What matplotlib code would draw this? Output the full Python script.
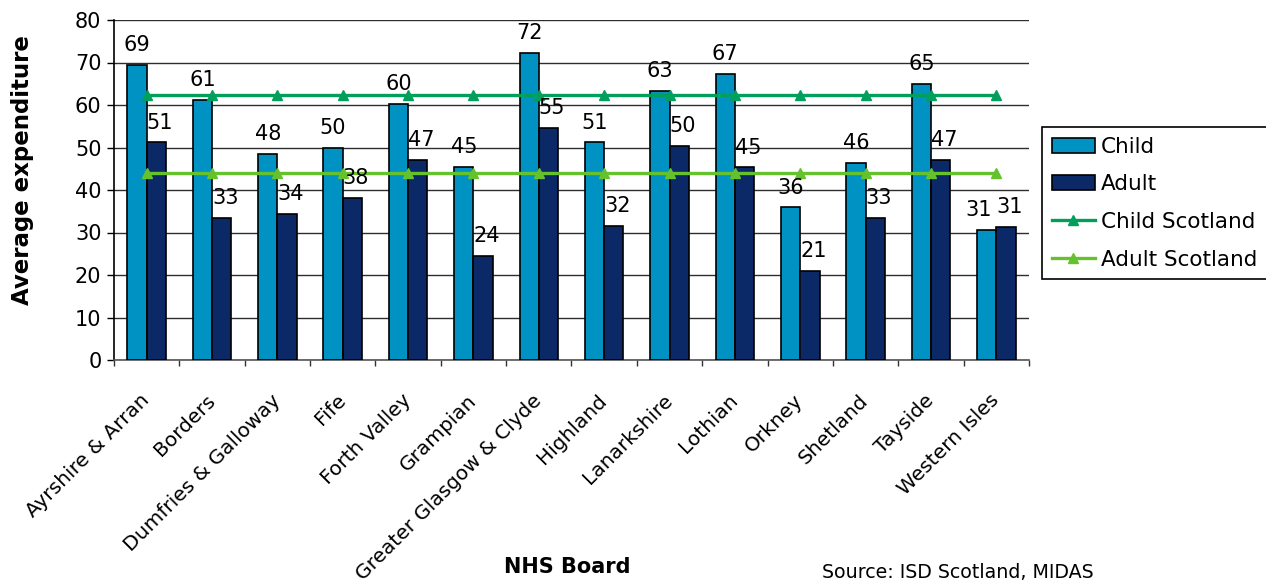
import matplotlib
matplotlib.use('Agg')
import matplotlib.pyplot as plt
import numpy as np
from matplotlib.patches import Patch
from matplotlib.lines import Line2D

boards = ["Ayrshire & Arran", "Borders", "Dumfries & Galloway", "Fife", "Forth Valley",
          "Grampian", "Greater Glasgow & Clyde", "Highland", "Lanarkshire", "Lothian",
          "Orkney", "Shetland", "Tayside", "Western Isles"]
child = [69.4, 61.2, 48.4, 50.0, 60.2, 45.4, 72.2, 51.2, 63.3, 67.4, 35.9, 46.4, 64.9, 30.7]
adult = [51.2, 33.4, 34.4, 38.1, 47.0, 24.4, 54.7, 31.6, 50.4, 45.3, 21.0, 33.4, 47.1, 31.4]
child_scotland = 62.3
adult_scotland = 43.9
yticks = [0, 10, 20, 30, 40, 50, 60, 70, 80]

C_CHILD = '#0092C2'
C_ADULT = '#0B2867'
C_CSCOT = '#00A05C'
C_ASCOT = '#66C22C'

W, H = 1266, 585
fig = plt.figure(figsize=(W / 100, H / 100), dpi=100)
fig.patch.set_facecolor('white')
ax = fig.add_axes([114 / W, 1 - 360 / H, (1029 - 114) / W, (360 - 20) / H])

x = np.arange(len(boards))
bw = 0.295
ax.bar(x - bw / 2, child, bw, color=C_CHILD, edgecolor='black', linewidth=1.2, zorder=3)
ax.bar(x + bw / 2, adult, bw, color=C_ADULT, edgecolor='black', linewidth=1.2, zorder=3)

ax.plot(x, [child_scotland] * len(x), color=C_CSCOT, lw=2.4, marker='^', ms=7,
        zorder=4)
ax.plot(x, [adult_scotland] * len(x), color=C_ASCOT, lw=2.4, marker='^', ms=7,
        zorder=4)

for xi, c, a in zip(x, child, adult):
    # when both labels sit at nearly the same height, push them apart sideways
    spread = 6 if abs(c - a) < 4 else 0
    ax.annotate(f"{c:.0f}", (xi - bw / 2, c), xytext=(-spread, 10), textcoords='offset points',
                ha='center', va='baseline', fontsize=15, zorder=5)
    ax.annotate(f"{a:.0f}", (xi + bw / 2, a), xytext=(2.5, 10), textcoords='offset points',
                ha='center', va='baseline', fontsize=15, zorder=5)

ax.set_xlim(-0.5, len(boards) - 0.5)
ax.set_ylim(0, 80)
ax.set_yticks(yticks)
ax.tick_params(axis='y', direction='out', length=5, width=1, pad=4, labelsize=15)
ax.yaxis.grid(True, color='#2e2e2e', linewidth=1, zorder=0)
ax.set_axisbelow(True)

ax.set_xticks(x)
ax.set_xticklabels(boards, rotation=45, ha='right', va='center', rotation_mode='anchor',
                   fontsize=14.5)
ax.tick_params(axis='x', which='major', length=0, pad=27)
ax.set_xticks(np.arange(len(boards) + 1) - 0.5, minor=True)
ax.tick_params(axis='x', which='minor', direction='out', length=4.5, width=1, color='#333333')

for s in ['top', 'right']:
    ax.spines[s].set_visible(False)
ax.spines['left'].set_color('black')
ax.spines['left'].set_linewidth(1.2)
ax.spines['bottom'].set_color('#555555')
ax.spines['bottom'].set_linewidth(1.2)

fig.text(23 / W, 1 - 170 / H, 'Average expenditure', rotation=90, ha='center', va='center',
         fontsize=16.5, fontweight='bold')
fig.text(567 / W, 1 - 567 / H, 'NHS Board', ha='center', va='center', fontsize=15,
         fontweight='bold')
fig.text(822 / W, 1 - 572 / H, 'Source: ISD Scotland, MIDAS', ha='left', va='center',
         fontsize=13.7)

handles = [
    Patch(facecolor=C_CHILD, edgecolor='black', linewidth=1.2),
    Patch(facecolor=C_ADULT, edgecolor='black', linewidth=1.2),
    Line2D([], [], color=C_CSCOT, lw=2.4, marker='^', ms=7),
    Line2D([], [], color=C_ASCOT, lw=2.4, marker='^', ms=7),
]
labels = ['Child', 'Adult', 'Child Scotland', 'Adult Scotland']
leg = fig.legend(handles, labels, loc='upper left', bbox_to_anchor=(1042 / W, 1 - 127 / H),
                 fontsize=15.5, frameon=True, fancybox=False, shadow=False, framealpha=1,
                 edgecolor='black', borderpad=0.45, labelspacing=0.82, handlelength=2.0,
                 handletextpad=0.3, borderaxespad=0)
leg.get_frame().set_linewidth(1.2)

fig.savefig('out.png', dpi=100)
